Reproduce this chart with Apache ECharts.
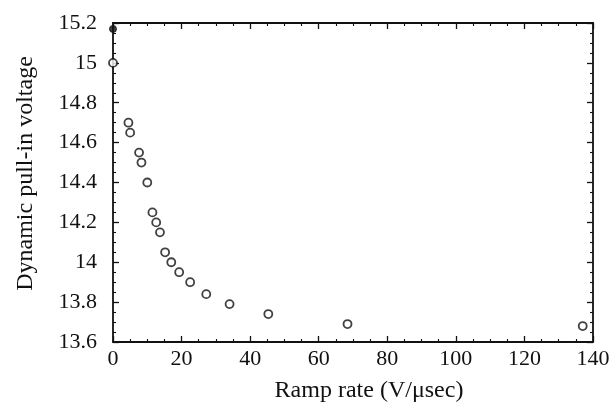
<!DOCTYPE html>
<html><head><meta charset="utf-8">
<script src="https://cdn.jsdelivr.net/npm/echarts@6/dist/echarts.min.js"></script>
<style>html,body{margin:0;padding:0;background:#fff}#c{width:613px;height:408px}</style>
</head><body><div id="c"></div>
<script>
const rampRate = [0, 4.5, 5.0, 7.6, 8.3, 10.0, 11.5, 12.6, 13.7, 15.2, 17.0, 19.3, 22.5, 27.2, 34.0, 45.3, 68.4, 137.0];
const pullIn = [15.0, 14.70, 14.65, 14.55, 14.50, 14.40, 14.25, 14.20, 14.15, 14.05, 14.00, 13.95, 13.90, 13.84, 13.79, 13.74, 13.69, 13.68];
const staticRate = [0];
const staticPullIn = [15.17];
const xTicks = [0, 20, 40, 60, 80, 100, 120, 140];
const yTicks = [13.6, 13.8, 14, 14.2, 14.4, 14.6, 14.8, 15, 15.2];

const font = 'Liberation Serif';
const lineStyle = {color: '#111', width: 1.8};
const baseX = {
  type: 'value', min: 0, max: 140, interval: 20,
  axisLine: {show: true, onZero: false, lineStyle},
  axisTick: {show: true, inside: true, length: 6, lineStyle: {color: '#111', width: 1.3}},
  minorTick: {show: true, splitNumber: 4, length: 3, lineStyle: {color: '#111', width: 1.1}},
  splitLine: {show: false}
};
const baseY = {
  type: 'value', min: 13.6, max: 15.2, interval: 0.2,
  axisLine: {show: true, onZero: false, lineStyle},
  axisTick: {show: true, inside: true, length: 6, lineStyle: {color: '#111', width: 1.3}},
  minorTick: {show: true, splitNumber: 4, length: 3, lineStyle: {color: '#111', width: 1.1}},
  splitLine: {show: false}
};
const chart = echarts.init(document.getElementById('c'), null, {renderer: 'canvas'});
chart.setOption({
  backgroundColor: '#fff',
  animation: false,
  grid: {left: 113, right: 20, top: 23, bottom: 62, containLabel: false},
  xAxis: [
    Object.assign({}, baseX, {
      position: 'bottom',
      name: 'Ramp rate (V/\u03bcsec)', nameLocation: 'middle', nameGap: 37,
      nameTextStyle: {fontFamily: font, fontSize: 24, color: '#111', padding: [0, 0, 0, 32]},
      axisLabel: {show: true, margin: 6, fontFamily: font, fontSize: 22, color: '#111',
        formatter: v => xTicks.includes(v) ? String(v) : ''}
    }),
    Object.assign({}, baseX, {position: 'top', axisLabel: {show: false}})
  ],
  yAxis: [
    Object.assign({}, baseY, {
      position: 'left',
      name: 'Dynamic pull-in voltage', nameLocation: 'middle', nameGap: 75, nameRotate: 90,
      nameTextStyle: {fontFamily: font, fontSize: 24, color: '#111', padding: [0, 0, 0, 18]},
      axisLabel: {show: true, margin: 16, fontFamily: font, fontSize: 22, color: '#111',
        formatter: v => {
          const t = yTicks.find(y => Math.abs(y - v) < 1e-6);
          return t === undefined ? '' : String(t);
        }}
    }),
    Object.assign({}, baseY, {position: 'right', axisLabel: {show: false}})
  ],
  series: [
    {
      type: 'scatter', xAxisIndex: 0, yAxisIndex: 0,
      data: rampRate.map((x, i) => [x, pullIn[i]]),
      symbol: 'circle', symbolSize: 8,
      itemStyle: {color: '#fff', borderColor: '#111', borderWidth: 1.8},
      clip: false
    },
    {
      type: 'scatter', xAxisIndex: 0, yAxisIndex: 0,
      data: staticRate.map((x, i) => [x, staticPullIn[i]]),
      symbol: 'circle', symbolSize: 7,
      itemStyle: {color: '#111', borderColor: '#111', borderWidth: 1},
      clip: false
    }
  ]
});
</script></body></html>
